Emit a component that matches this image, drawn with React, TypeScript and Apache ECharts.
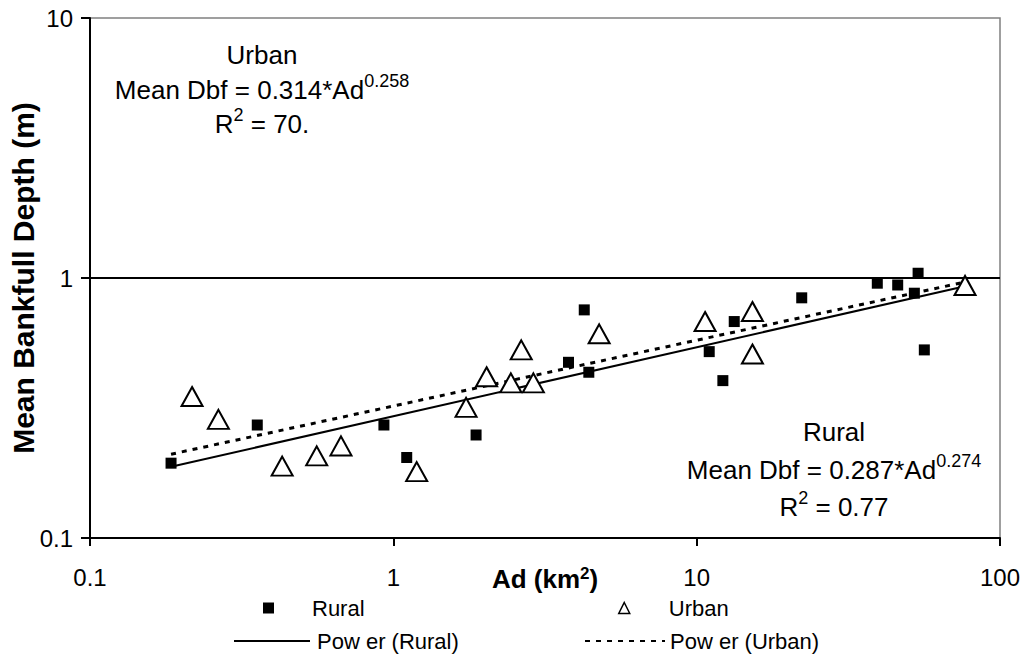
import React, { useEffect, useRef } from "react";
import * as echarts from "echarts";

// Rural sites: drainage area (km²) and mean bankfull depth (m)
const ruralAd = [0.185, 0.356, 0.931, 1.107, 1.874, 3.78, 4.26, 4.41, 11.0, 12.2, 13.3, 22.2, 39.4, 46.0, 52.2, 53.7, 56.3];
const ruralDbf = [0.194, 0.272, 0.272, 0.204, 0.249, 0.474, 0.754, 0.434, 0.521, 0.403, 0.68, 0.839, 0.955, 0.94, 0.874, 1.043, 0.529];

// Urban sites
const urbanAd = [0.217, 0.265, 0.43, 0.559, 0.672, 1.194, 1.737, 2.03, 2.44, 2.64, 2.895, 4.77, 10.66, 15.27, 15.27, 76.7];
const urbanDbf = [0.35, 0.286, 0.189, 0.207, 0.226, 0.18, 0.318, 0.417, 0.395, 0.529, 0.395, 0.61, 0.68, 0.743, 0.51, 0.936];

// Power trend lines (end points)
const ruralTrendAd = [0.185, 76.7];
const ruralTrendDbf = [0.188, 0.93];
const urbanTrendAd = [0.185, 76.7];
const urbanTrendDbf = [0.21, 0.965];

const xTicks = [0.1, 1, 10, 100];
const yTicks = [0.1, 1, 10];

const seriesNames = ["Rural", "Urban", "Pow er (Rural)", "Pow er (Urban)"];

const FONT = "'Liberation Sans', Arial, Helvetica, sans-serif";

const zip = (a: number[], b: number[]) => a.map((v, i) => [v, b[i]]);

export default function App() {
  const ref = useRef<HTMLDivElement>(null);

  useEffect(() => {
    if (!ref.current) return;
    const chart = echarts.init(ref.current, null, { renderer: "svg" });

    const eqRich = {
      n: { fontSize: 26, fontFamily: FONT, color: "#000", lineHeight: 36 },
      s: { fontSize: 18, fontFamily: FONT, color: "#000", lineHeight: 18, verticalAlign: "top" },
    };

    const textEl = (x: number, y: number, text: string) => ({
      type: "text",
      x,
      y,
      silent: true,
      style: {
        text,
        x: 0,
        y: 0,
        textAlign: "center",
        align: "center",
        textVerticalAlign: "middle",
        verticalAlign: "middle",
        fill: "#000",
        font: `26px ${FONT}`,
        rich: eqRich,
      },
    });

    const legendBase = {
      orient: "horizontal",
      padding: 0,
      itemGap: 0,
      selectedMode: false,
      textStyle: { fontSize: 22, fontFamily: FONT, color: "#000" },
    };

    chart.setOption({
      animation: false,
      backgroundColor: "#fff",
      textStyle: { fontFamily: FONT },
      grid: {
        left: 89,
        right: 26,
        top: 18,
        bottom: 123,
        show: true,
        borderColor: "#808080",
        borderWidth: 1.5,
        backgroundColor: "transparent",
      },
      xAxis: {
        type: "log",
        logBase: 10,
        min: xTicks[0],
        max: xTicks[xTicks.length - 1],
        name: "{b|Ad (km}{s|2}{b|)}",
        nameLocation: "middle",
        nameGap: 27,
        nameMoveOverlap: false,
        nameTextStyle: {
          rich: {
            b: { fontSize: 26, fontWeight: "bold", fontFamily: FONT, color: "#000", lineHeight: 28 },
            s: { fontSize: 17, fontWeight: "bold", fontFamily: FONT, color: "#000", lineHeight: 17, verticalAlign: "top" },
          },
        },
        axisLine: { show: true, lineStyle: { color: "#000", width: 2 } },
        axisTick: { show: true, inside: false, length: 8, lineStyle: { color: "#000", width: 2 } },
        axisLabel: {
          fontSize: 24,
          color: "#000",
          fontFamily: FONT,
          margin: 27,
          formatter: (v: number) => String(v),
        },
        splitLine: { show: false },
        minorTick: { show: false },
      },
      yAxis: {
        type: "log",
        logBase: 10,
        min: yTicks[0],
        max: yTicks[yTicks.length - 1],
        name: "Mean Bankfull Depth (m)",
        nameLocation: "middle",
        nameGap: 52,
        nameMoveOverlap: false,
        nameTextStyle: { fontSize: 30, fontWeight: "bold", fontFamily: FONT, color: "#000" },
        axisLine: { show: true, lineStyle: { color: "#000", width: 2 } },
        axisTick: { show: true, inside: false, length: 9, lineStyle: { color: "#000", width: 2 } },
        axisLabel: {
          fontSize: 24,
          color: "#000",
          fontFamily: FONT,
          margin: 17,
          formatter: (v: number) => String(v),
        },
        splitLine: {
          show: true,
          lineStyle: { color: ["rgba(0,0,0,0)", "#000", "rgba(0,0,0,0)"], width: 2 },
        },
        minorTick: { show: false },
      },
      legend: [
        {
          ...legendBase,
          data: [seriesNames[0]],
          left: 263,
          top: 597,
          itemWidth: 11,
          itemHeight: 11,
          textStyle: { ...legendBase.textStyle, padding: [0, 0, 0, 33] },
        },
        {
          ...legendBase,
          data: [seriesNames[1]],
          left: 618,
          top: 597,
          itemWidth: 11,
          itemHeight: 11,
          itemStyle: { borderWidth: 1.5 },
          textStyle: { ...legendBase.textStyle, padding: [0, 0, 0, 34] },
        },
        {
          ...legendBase,
          data: [seriesNames[2]],
          left: 233,
          top: 630,
          itemWidth: 76,
          itemHeight: 11,
          itemStyle: { opacity: 0 },
          textStyle: { ...legendBase.textStyle, padding: [0, 0, 0, 2] },
        },
        {
          ...legendBase,
          data: [seriesNames[3]],
          left: 584,
          top: 630,
          itemWidth: 80,
          itemHeight: 11,
          itemStyle: { opacity: 0 },
        },
      ],
      series: [
        {
          name: seriesNames[0],
          type: "scatter",
          data: zip(ruralAd, ruralDbf),
          symbol: "rect",
          symbolSize: 11,
          itemStyle: { color: "#000", opacity: 1 },
          z: 3,
        },
        {
          name: seriesNames[1],
          type: "scatter",
          data: zip(urbanAd, urbanDbf),
          symbol: "triangle",
          symbolSize: [21, 19],
          itemStyle: { color: "#fff", borderColor: "#000", borderWidth: 2, opacity: 1 },
          z: 3,
        },
        {
          name: seriesNames[2],
          type: "line",
          data: zip(ruralTrendAd, ruralTrendDbf),
          symbol: "none",
          showSymbol: false,
          lineStyle: { color: "#000", width: 2, type: "solid" },
          itemStyle: { color: "#000" },
          z: 2,
        },
        {
          name: seriesNames[3],
          type: "line",
          data: zip(urbanTrendAd, urbanTrendDbf),
          symbol: "none",
          showSymbol: false,
          lineStyle: { color: "#000", width: 3, type: [5, 6] },
          itemStyle: { color: "#000" },
          z: 2,
        },
      ],
      graphic: [
        textEl(262, 55, "{n|Urban}"),
        textEl(262, 90, "{n|Mean Dbf = 0.314*Ad}{s|0.258}"),
        textEl(262, 124, "{n|R}{s|2}{n| = 70.}"),
        textEl(834, 432, "{n|Rural}"),
        textEl(834, 470, "{n|Mean Dbf = 0.287*Ad}{s|0.274}"),
        textEl(834, 507, "{n|R}{s|2}{n| = 0.77}"),
      ],
    });

    return () => {
      chart.dispose();
    };
  }, []);

  return (
    <div
      ref={ref}
      style={{ position: "fixed", left: 0, top: 0, width: 1026, height: 661, background: "#fff" }}
    />
  );
}
